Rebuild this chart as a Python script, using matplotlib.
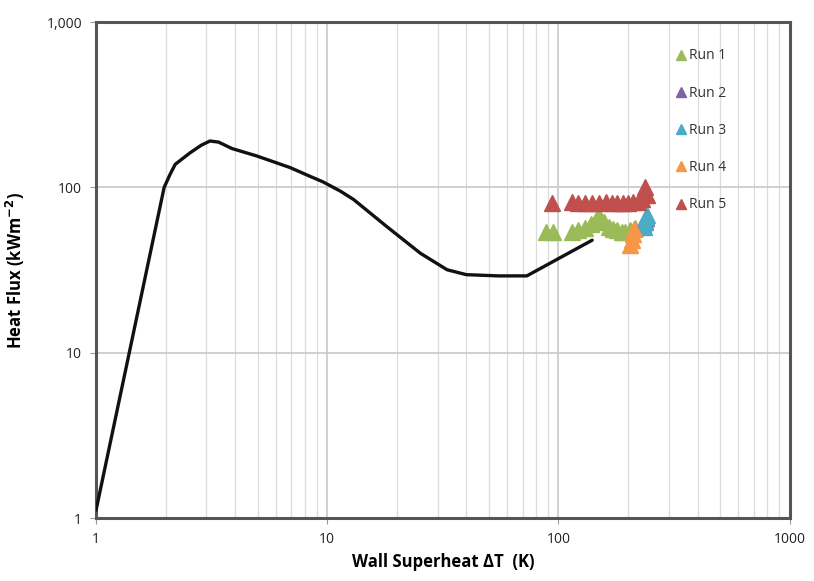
import matplotlib
matplotlib.use("Agg")
import matplotlib.pyplot as plt
from matplotlib.ticker import FixedLocator, FixedFormatter, LogLocator, NullFormatter

plt.rcParams['font.family'] = ['Open Sans', 'DejaVu Sans']

# Boiling curve
curve_x = [1.0, 1.97, 2.09, 2.2, 2.55, 2.85, 3.11, 3.39, 3.87, 4.96, 6.9, 8.4, 9.6, 11.4, 13.0, 18.1, 25.3, 33.0, 40.0, 55.0, 73.0, 140.0]
curve_y = [1.12, 100, 120, 138, 162, 180, 191, 188, 172, 155, 132, 117, 108, 95, 84.6, 58, 40, 31.8, 29.7, 29.2, 29.2, 48]

# Runs
run1_x = [88, 95, 115, 122, 130, 138, 145, 150, 158, 165, 172, 180, 188, 195, 205, 215]
run1_y = [54, 54, 54, 55, 57, 60, 64, 67, 62, 58, 56, 55, 54, 54, 55, 57]
run2_x = [232, 236, 240]
run2_y = [60, 63, 65]
run3_x = [235, 238, 240, 242]
run3_y = [58, 62, 66, 68]
run4_x = [205, 208, 210, 212]
run4_y = [45, 48, 52, 56]
run5_x = [94, 115, 122, 130, 140, 150, 160, 170, 180, 190, 200, 210, 220, 230, 238, 242]
run5_y = [80, 82, 80, 81, 80, 80, 82, 80, 81, 80, 80, 82, 82, 85, 100, 90]

runs = [("Run 1", run1_x, run1_y, "#9BBB59"),
        ("Run 2", run2_x, run2_y, "#8064A2"),
        ("Run 3", run3_x, run3_y, "#4BACC6"),
        ("Run 4", run4_x, run4_y, "#F79646"),
        ("Run 5", run5_x, run5_y, "#C0504D")]

x_ticks = [1, 10, 100, 1000]
x_labels = ["1", "10", "100", "1000"]
y_ticks = [1, 10, 100, 1000]
y_labels = ["1", "10", "100", "1,000"]

fig = plt.figure(figsize=(8.14, 5.81), dpi=100)
ax = fig.add_axes([0.118, 0.108, 0.852, 0.854])
ax.set_xscale('log')
ax.set_yscale('log')
ax.set_xlim(1, 1000)
ax.set_ylim(1, 1000)

ax.xaxis.set_major_locator(FixedLocator(x_ticks))
ax.xaxis.set_major_formatter(FixedFormatter(x_labels))
ax.xaxis.set_minor_locator(LogLocator(base=10, subs=range(2, 10)))
ax.xaxis.set_minor_formatter(NullFormatter())
ax.yaxis.set_major_locator(FixedLocator(y_ticks))
ax.yaxis.set_major_formatter(FixedFormatter(y_labels))
ax.yaxis.set_minor_locator(FixedLocator([]))

ax.grid(True, which='major', axis='both', color='#c8c8c8', linewidth=1.2)
ax.grid(True, which='minor', axis='x', color='#dcdcdc', linewidth=0.9)
ax.set_axisbelow(True)

for s in ax.spines.values():
    s.set_color('#555555')
    s.set_linewidth(2.2)

ax.tick_params(axis='both', which='major', length=4, color='#999999', labelsize=10, labelcolor='#222222', pad=6)
ax.tick_params(axis='both', which='minor', length=0)

ax.plot(curve_x, curve_y, color='#111111', linewidth=2.4, zorder=3,
        solid_joinstyle='round', solid_capstyle='round')

for name, xs, ys, c in runs:
    ax.plot(xs, ys, linestyle='none', marker='^', markersize=11, color=c, label=name, zorder=4)

leg = ax.legend(loc='upper left', bbox_to_anchor=(0.825, 0.958), frameon=False,
                fontsize=10, labelspacing=1.6, handletextpad=0.1, handlelength=1.0,
                markerscale=0.7, borderaxespad=0)
for t in leg.get_texts():
    t.set_color('#333333')

ax.set_xlabel("Wall Superheat ΔT  (K)", fontsize=12, fontweight='bold', labelpad=4)
ax.set_ylabel("Heat Flux (kWm$^{\\mathbf{-2}}$)", fontsize=12, fontweight='bold', labelpad=14)

fig.savefig("out.png", dpi=100)
